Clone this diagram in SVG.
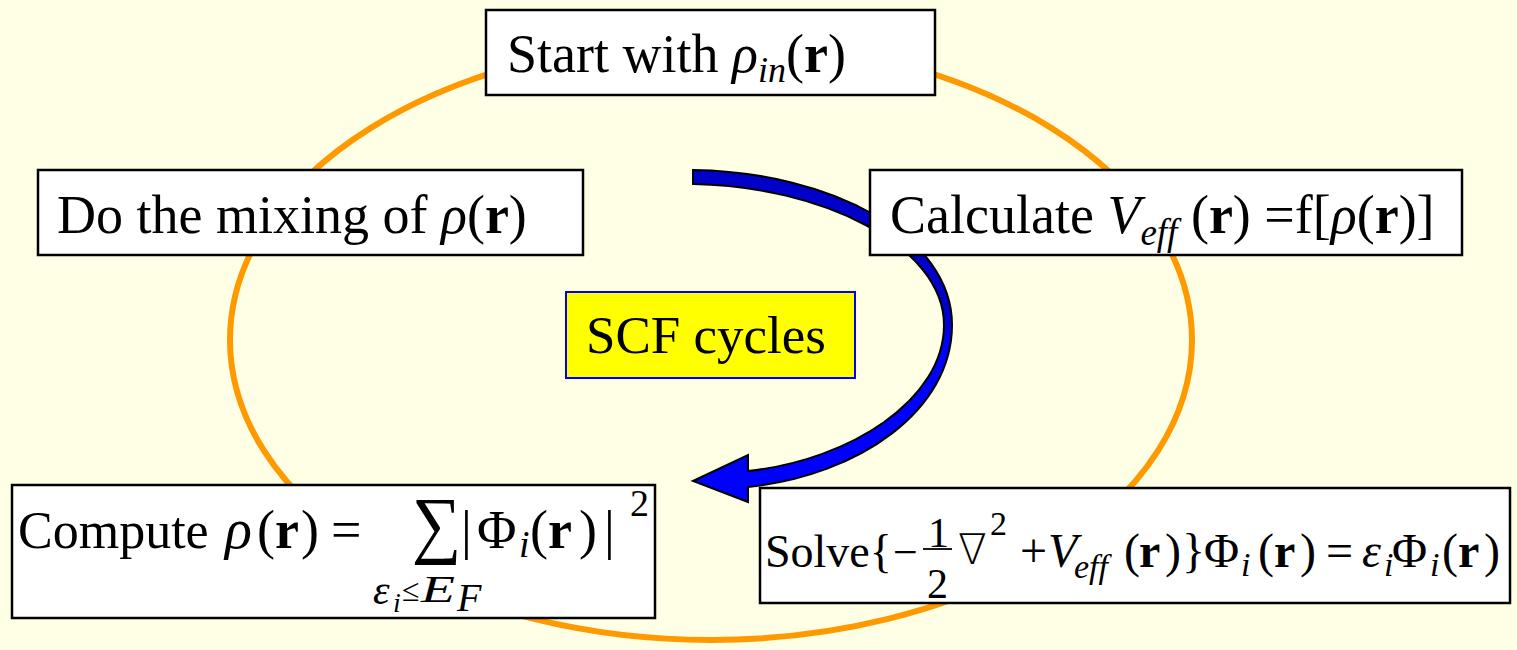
<svg xmlns="http://www.w3.org/2000/svg" width="1517" height="650" viewBox="0 0 1517 650">
<style>
.box{fill:#fff;stroke:#000;stroke-width:2.5}
text{font-family:"Liberation Serif","Times New Roman",serif;fill:#000}
.i{font-style:italic}
.b{font-weight:bold}
.m{font-size:54px}
.s{font-size:48px}
.ss{font-size:34px;font-style:italic}
</style>
<defs>
<linearGradient id="ag" gradientUnits="userSpaceOnUse" x1="0" y1="170" x2="0" y2="500">
<stop offset="0" stop-color="#0000C8"/>
<stop offset="0.42" stop-color="#0000C8"/>
<stop offset="0.55" stop-color="#0000FF"/>
<stop offset="1" stop-color="#0000FF"/>
</linearGradient>
</defs>
<rect width="1517" height="650" fill="#FFFFE6"/>
<g id="connectors">
<ellipse cx="711" cy="340" rx="481" ry="300" fill="none" stroke="#FF9900" stroke-width="6"/>
<path d="M693,170 C830,172 952,235 952,325 C952,410 860,475 748,487 L748,502 L693,481 L748,455 L748,471 C850,460 944,400 944,325 C944,245 820,186 693,184 Z" fill="url(#ag)" stroke="#000" stroke-width="2" stroke-linejoin="miter"/>
</g>
<g id="start">
<rect class="box" x="486" y="10" width="449" height="85"/>
<text x="507" y="72" font-size="54">Start with <tspan class="i">ρ</tspan><tspan class="i" font-size="36" dy="10">in</tspan><tspan dy="-10">(</tspan><tspan class="b">r</tspan>)</text>
</g>
<g id="mixing">
<rect class="box" x="38" y="170" width="545" height="85"/>
<text x="57" y="233" font-size="54">Do the mixing of <tspan class="i">ρ</tspan>(<tspan class="b">r</tspan>)</text>
</g>
<g id="calculate">
<rect class="box" x="870" y="170" width="592" height="85"/>
<text x="890" y="233" font-size="54">Calculate <tspan class="i">V</tspan><tspan class="i" font-size="37" dy="12">eff</tspan><tspan dy="-12"> (</tspan><tspan class="b">r</tspan>) =f[<tspan class="i">ρ</tspan>(<tspan class="b">r</tspan>)]</text>
</g>
<g id="scf">
<rect x="566" y="292" width="289" height="86" fill="#FFFF00" stroke="#0000FF" stroke-width="2"/>
<text x="586" y="353" font-size="53">SCF cycles</text>
</g>
<g id="compute">
<rect class="box" x="12" y="485" width="643" height="133"/>
<text x="18" y="548" font-size="52">Compute</text>
<text x="225" y="548" font-size="56" class="i">ρ</text>
<text y="548" class="m"><tspan x="257">(</tspan><tspan x="275" class="b">r</tspan><tspan x="301">)</tspan><tspan x="331">=</tspan></text>
<text transform="translate(412,549) scale(1.12,1.2)" font-size="62">∑</text>
<text y="548" class="m"><tspan x="461">|</tspan><tspan x="477">Φ</tspan></text>
<text x="519" y="557" font-size="38" class="i">i</text>
<text y="548" class="m"><tspan x="530">(</tspan><tspan x="548" class="b">r</tspan><tspan x="579">)</tspan><tspan x="604">|</tspan></text>
<text x="630" y="516" font-size="38">2</text>
<text x="373" y="604" font-size="42" class="i">ε</text>
<text x="393" y="612" font-size="28" class="i">i</text>
<text x="402" y="601" font-size="32">≤</text>
<text x="421" y="602" font-size="38" class="i" textLength="34" lengthAdjust="spacingAndGlyphs">E</text>
<text x="457" y="611" font-size="40" class="i">F</text>
</g>
<g id="solve">
<rect class="box" x="760" y="488" width="750" height="115"/>
<text x="765" y="567" font-size="46">Solve{</text>
<text x="893" y="567" font-size="44">−</text>
<text x="928" y="547" font-size="42">1</text>
<line x1="923" y1="549" x2="952" y2="549" stroke="#000" stroke-width="1.8"/>
<text x="927" y="598" font-size="42">2</text>
<text x="958" y="564" font-size="42" style="font-family:'DejaVu Sans',sans-serif;font-weight:200">∇</text>
<text x="990" y="535" font-size="34">2</text>
<text x="1020" y="567" class="s">+</text>
<text x="1048" y="567" class="s i">V</text>
<text x="1074" y="578" class="ss">eff</text>
<text y="567" class="s"><tspan x="1124">(</tspan><tspan x="1139" class="b">r</tspan><tspan x="1165">)</tspan><tspan x="1182">}</tspan><tspan x="1204">Φ</tspan></text>
<text x="1241" y="576" class="ss">i</text>
<text y="567" class="s"><tspan x="1258">(</tspan><tspan x="1274" class="b">r</tspan><tspan x="1300">)</tspan><tspan x="1326">=</tspan></text>
<text x="1362" y="567" class="s i">ε</text>
<text x="1384" y="576" class="ss">i</text>
<text x="1392" y="567" class="s">Φ</text>
<text x="1430" y="576" class="ss">i</text>
<text y="567" class="s"><tspan x="1442">(</tspan><tspan x="1458" class="b">r</tspan><tspan x="1484">)</tspan></text>
</g>
</svg>
